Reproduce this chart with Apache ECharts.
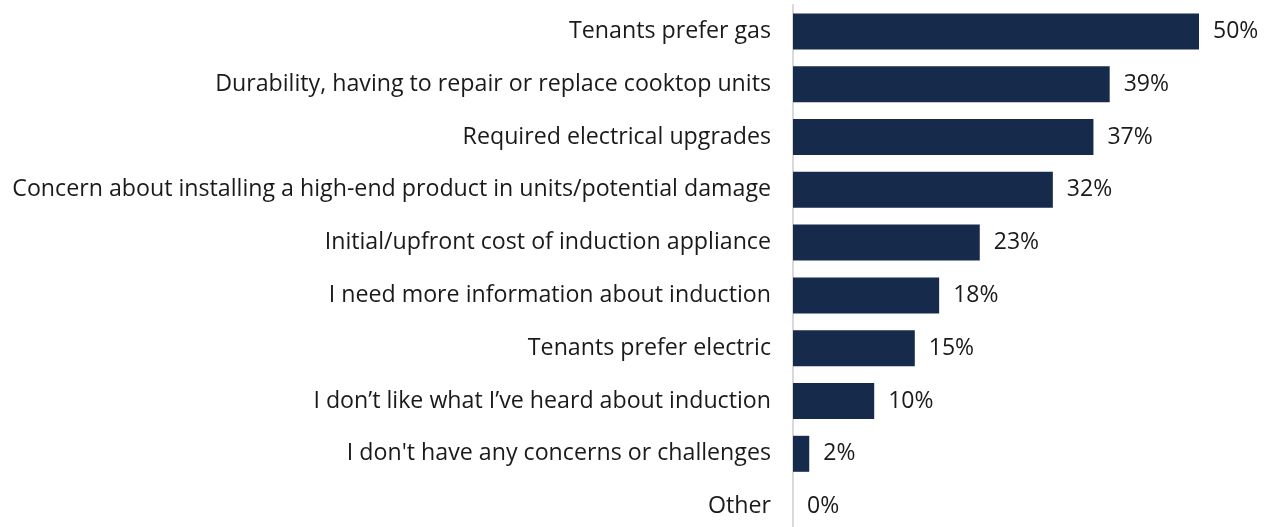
<!DOCTYPE html>
<html><head><meta charset="utf-8">
<script src="https://cdn.jsdelivr.net/npm/echarts@6/dist/echarts.min.js"></script>
<style>html,body{margin:0;padding:0;background:#fff}#c{width:1270px;height:527px}</style>
</head><body><div id="c"></div>
<script>
const categories = [
  "Tenants prefer gas",
  "Durability, having to repair or replace cooktop units",
  "Required electrical upgrades",
  "Concern about installing a high-end product in units/potential damage",
  "Initial/upfront cost of induction appliance",
  "I need more information about induction",
  "Tenants prefer electric",
  "I don\u2019t like what I\u2019ve heard about induction",
  "I don't have any concerns or challenges",
  "Other"
];
const values = [50, 39, 37, 32, 23, 18, 15, 10, 2, 0];

const chart = echarts.init(document.getElementById('c'), null, {renderer:'canvas'});
chart.setOption({
  animation: false,
  grid: {left: 793, right: 71, top: 5, height: 528, outerBoundsMode:'none', containLabel:false},
  xAxis: {type:'value', min:0, max:50, show:false},
  yAxis: {
    type:'category', data: categories, inverse: true,
    axisLine:{show:true, lineStyle:{color:'#d9d9d9', width:2}},
    axisTick:{show:false},
    axisLabel:{color:'#1a1a1a', fontFamily:'Open Sans', fontSize:23.2, margin:22, padding:[4,0,0,0]}
  },
  series: [{
    type:'bar', data: values, barWidth: 36,
    itemStyle:{color:'#162a4c'},
    label:{show:true, position:'right', distance:14, formatter:'{c}%', color:'#1a1a1a', fontFamily:'Open Sans', fontSize:23, padding:[4,0,0,0]}
  }]
});
</script></body></html>
